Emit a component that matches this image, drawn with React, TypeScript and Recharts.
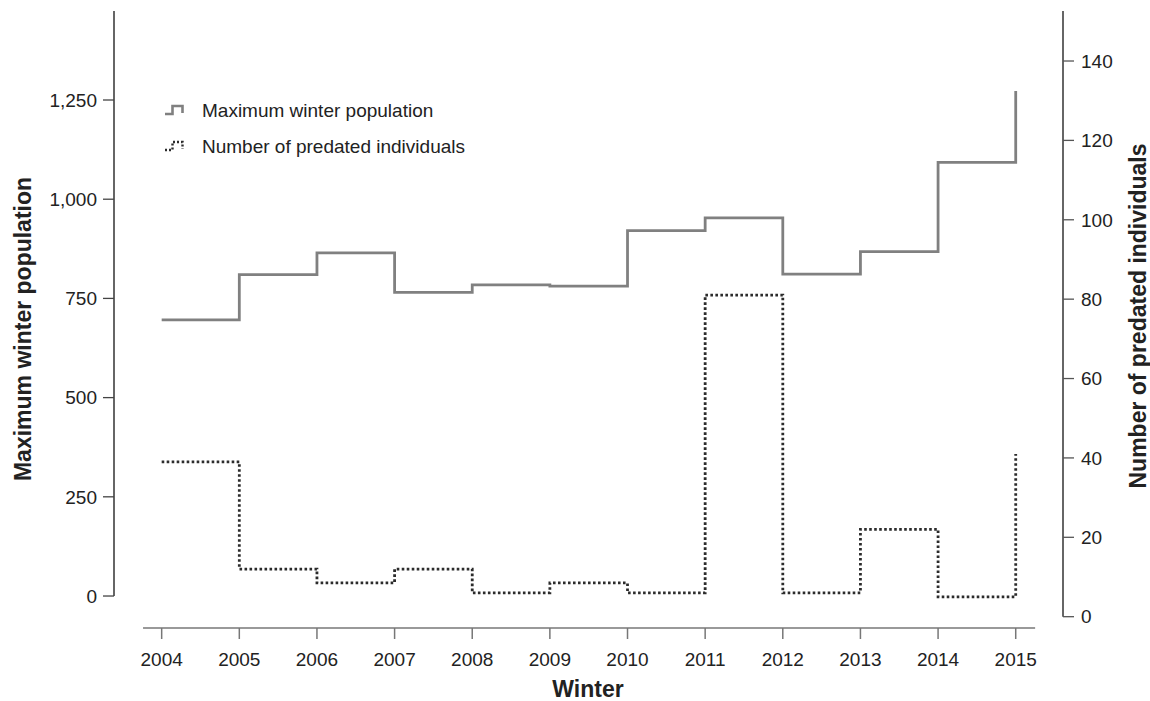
import { LineChart, Line, XAxis, YAxis, ReferenceLine } from 'recharts';

// values
const YEARS = [2004, 2005, 2006, 2007, 2008, 2009, 2010, 2011, 2012, 2013, 2014, 2015];
const MAX_POPULATION = [696, 810, 865, 765, 784, 781, 921, 953, 811, 868, 1093, 1273];
const PREDATED = [39, 12, 8.5, 12, 6, 8.5, 6, 81, 6, 22, 5, 41];

const POP_TICKS = [0, 250, 500, 750, 1000, 1250];
const PRED_TICKS = [0, 20, 40, 60, 80, 100, 120, 140];

// axis domains tuned so the two y scales sit like the original (offset zeros)
const X_DOMAIN: [number, number] = [2003.386, 2015.609];
const POP_DOMAIN: [number, number] = [-80.6, 1474.3];
const PRED_DOMAIN: [number, number] = [-2.85, 152.6];
const X_LINE: [number, number] = [2003.76, 2015.25];

const data = YEARS.map((year, i) => ({
  year,
  population: MAX_POPULATION[i],
  predated: PREDATED[i],
}));

const FONT = '"Liberation Sans", Arial, sans-serif';
const POP_COLOR = '#808080';
const PRED_COLOR = '#2b2b2b';

const tickStyle = { fill: '#222', fontSize: 19, fontFamily: FONT };

export default function App() {
  return (
    <div style={{ position: 'absolute', left: 0, top: 0, width: 1150, height: 701, background: '#fff' }}>
      <LineChart
        width={1150}
        height={701}
        data={data}
        margin={{ top: 11, right: 27, bottom: 33, left: 54 }}
      >
        <XAxis
          type="number"
          dataKey="year"
          domain={X_DOMAIN}
          allowDataOverflow
          ticks={YEARS}
          axisLine={false}
          tickLine={{ stroke: '#777', strokeWidth: 1.5 }}
          tickSize={11}
          tickMargin={14}
          height={40}
          tick={tickStyle}
          interval={0}
        />
        <YAxis
          yAxisId="left"
          domain={POP_DOMAIN}
          allowDataOverflow
          ticks={POP_TICKS}
          tickFormatter={(v: number) => v.toLocaleString('en-US')}
          axisLine={false}
          tickLine={{ stroke: '#444', strokeWidth: 1.3 }}
          tickSize={11}
          tickMargin={6}
          width={60}
          tick={tickStyle}
          interval={0}
        />
        <YAxis
          yAxisId="right"
          orientation="right"
          domain={PRED_DOMAIN}
          allowDataOverflow
          ticks={PRED_TICKS}
          axisLine={false}
          tickLine={{ stroke: '#555', strokeWidth: 1.3 }}
          tickSize={11}
          tickMargin={7}
          width={60}
          tick={tickStyle}
          interval={0}
        />

        {/* axis lines drawn by hand since they don't span the whole plot */}
        <ReferenceLine
          yAxisId="left"
          ifOverflow="visible"
          segment={[{ x: X_DOMAIN[0], y: 0 }, { x: X_DOMAIN[0], y: POP_DOMAIN[1] }]}
          stroke="#333"
          strokeWidth={1.5}
        />
        <ReferenceLine
          yAxisId="right"
          ifOverflow="visible"
          segment={[{ x: X_DOMAIN[1], y: 0 }, { x: X_DOMAIN[1], y: PRED_DOMAIN[1] }]}
          stroke="#333"
          strokeWidth={1.5}
        />
        <ReferenceLine
          yAxisId="left"
          ifOverflow="visible"
          segment={[{ x: X_LINE[0], y: POP_DOMAIN[0] }, { x: X_LINE[1], y: POP_DOMAIN[0] }]}
          stroke="#777"
          strokeWidth={1.5}
        />

        <Line
          yAxisId="left"
          type="stepAfter"
          dataKey="population"
          stroke={POP_COLOR}
          strokeWidth={2.8}
          dot={false}
          activeDot={false}
          isAnimationActive={false}
        />
        <Line
          yAxisId="right"
          type="stepAfter"
          dataKey="predated"
          stroke={PRED_COLOR}
          strokeWidth={2.8}
          strokeDasharray="2.6 2.4"
          dot={false}
          activeDot={false}
          isAnimationActive={false}
        />
      </LineChart>

      {/* legend + axis titles */}
      <svg
        width={1150}
        height={701}
        style={{ position: 'absolute', left: 0, top: 0, pointerEvents: 'none' }}
        fontFamily={FONT}
      >
        <path d="M165,114 H172.5 V106 H182.5 V113" fill="none" stroke={POP_COLOR} strokeWidth={2.6} />
        <text x={202} y={117} fontSize={19} fill="#222">Maximum winter population</text>
        <path
          d="M165,150 H172.5 V142 H182.5 V149"
          fill="none"
          stroke={PRED_COLOR}
          strokeWidth={2.4}
          strokeDasharray="2 2"
        />
        <text x={202} y={153} fontSize={19} fill="#222">Number of predated individuals</text>

        <text
          x={23}
          y={329}
          transform="rotate(-90 23 329)"
          textAnchor="middle"
          dominantBaseline="central"
          fontSize={23}
          fontWeight="bold"
          fill="#222"
        >
          Maximum winter population
        </text>
        <text
          x={1138}
          y={316}
          transform="rotate(-90 1138 316)"
          textAnchor="middle"
          dominantBaseline="central"
          fontSize={23}
          fontWeight="bold"
          fill="#222"
        >
          Number of predated individuals
        </text>
        <text x={588} y={697} textAnchor="middle" fontSize={23} fontWeight="bold" fill="#222">
          Winter
        </text>
      </svg>
    </div>
  );
}
